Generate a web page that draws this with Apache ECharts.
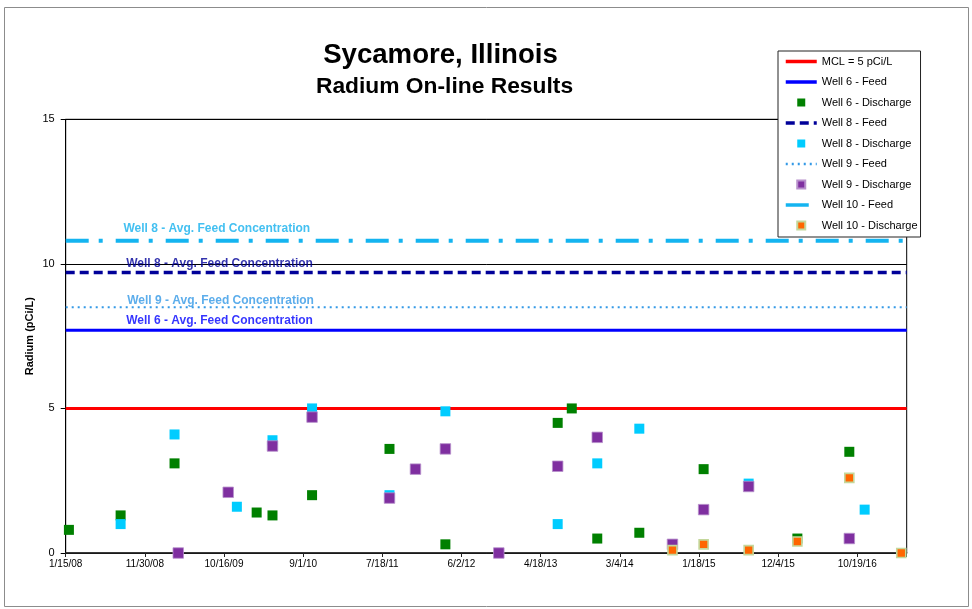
<!DOCTYPE html>
<html>
<head>
<meta charset="utf-8">
<script src="https://cdn.jsdelivr.net/npm/echarts@6/dist/echarts.min.js"></script>
<style>
html,body{margin:0;padding:0;background:#fff;}
#chart{width:972px;height:609px;}
</style>
</head>
<body>
<div id="chart"></div>
<script>
// ---- data ----
const startDate = '2008-01-15';
const endDate = '2017-05-07';
const tickIntervalDays = 320;
const yTicks = [0, 5, 10, 15];

const mclValue = 5;
const well6FeedAvg = 7.7;
const well8FeedAvg = 9.7;
const well9FeedAvg = 8.5;
const well10FeedAvg = 10.8;

const well6Dates = ['2008-01-28','2008-08-24','2009-03-30','2010-02-25','2010-04-30','2010-10-07','2011-08-16','2012-03-29','2013-06-26','2013-08-22','2013-12-03','2014-05-22','2015-02-06','2016-02-20','2016-09-17'];
const well6Values = [0.8,1.3,3.1,1.4,1.3,2.0,3.6,0.3,4.5,5.0,0.5,0.7,2.9,0.5,3.5];

const well8Dates = ['2008-08-24','2009-03-30','2009-12-07','2010-04-30','2010-10-07','2011-08-16','2012-03-29','2013-06-26','2013-12-03','2014-05-22','2015-08-07','2016-11-18'];
const well8Values = [1.0,4.1,1.6,3.9,5.0,2.0,4.9,1.0,3.1,4.3,2.4,1.5];

const well9Dates = ['2009-04-14','2009-11-02','2010-04-30','2010-10-07','2011-08-16','2011-11-29','2012-03-29','2012-10-31','2013-06-26','2013-12-03','2014-10-03','2015-02-06','2015-08-07','2016-09-17'];
const well9Values = [0.0,2.1,3.7,4.7,1.9,2.9,3.6,0.0,3.0,4.0,0.3,1.5,2.3,0.5];

const well10Dates = ['2014-10-03','2015-02-06','2015-08-07','2016-02-20','2016-09-17','2017-04-15'];
const well10Values = [0.1,0.3,0.1,0.4,2.6,0.0];

const annotationTexts = ['Well 8 - Avg. Feed Concentration','Well 8 - Avg. Feed Concentration','Well 9 - Avg. Feed Concentration','Well 6 - Avg. Feed Concentration'];
const legendNames = ['MCL = 5 pCi/L','Well 6 - Feed','Well 6 - Discharge','Well 8 - Feed','Well 8 - Discharge','Well 9 - Feed','Well 9 - Discharge','Well 10 - Feed','Well 10 - Discharge'];

// ---- helpers ----
const DAY = 86400000;
function toMs(s){ const p = s.split('-').map(Number); return Date.UTC(p[0], p[1]-1, p[2]); }
const base = toMs(startDate);
function toDay(s){ return Math.round((toMs(s) - base) / DAY); }
const xMax = toDay(endDate);
function fmtDay(v){
  const d = new Date(base + v * DAY);
  return (d.getUTCMonth()+1) + '/' + d.getUTCDate() + '/' + String(d.getUTCFullYear()).slice(2);
}
function pts(dates, vals){ return dates.map((d,i) => [toDay(d), vals[i]]); }
function flat(v){ return [[0, v], [xMax, v]]; }

const FONT = '"Liberation Sans", Arial, sans-serif';
const SQUARE = 'path://M0,0L10,0L10,10L0,10Z';

const chart = echarts.init(document.getElementById('chart'), null, {renderer:'canvas'});

function lineSeries(name, v, color, width, type, z){
  return {
    name, type:'line', data: flat(v), symbol:'none', showSymbol:false, silent:true,
    lineStyle:{color, width, type, cap:'butt'}, itemStyle:{color}, z: z || 2,
    animation:false
  };
}
function scatterSeries(name, data, color, size, border){
  return {
    name, type:'scatter', data, symbol:'rect', symbolSize:size, silent:true,
    itemStyle: Object.assign({color, opacity:1}, border || {}), z:5, animation:false
  };
}

const annotationColors = ['#14B0EE','#000099','#3399E6','#0000FF'];
const annotationData = [
  {value:[611, well10FeedAvg + 0.40], name: annotationTexts[0]},
  {value:[622, well8FeedAvg + 0.30], name: annotationTexts[1]},
  {value:[626, well9FeedAvg + 0.23], name: annotationTexts[2]},
  {value:[622, well6FeedAvg + 0.32], name: annotationTexts[3]}
].map((d,i) => Object.assign(d, {label:{color: annotationColors[i]}}));

const legendLineWidth = {'Well 9 - Feed': 2.5};
const legendData = legendNames.map(n => n.indexOf('Discharge') >= 0
  ? {name:n, icon:SQUARE}
  : {name:n, itemStyle:{opacity:0}, lineStyle:{width: legendLineWidth[n] || 3.5}});

const option = {
  animation:false,
  backgroundColor:'#fff',
  title:[
    {text:'Sycamore, Illinois', left:440.5, top:41, textAlign:'center', padding:0,
     textStyle:{fontFamily:FONT, fontSize:27.6, fontWeight:'bold', color:'#000', lineHeight:28}},
    {text:'Radium On-line Results', left:444.5, top:76, textAlign:'center', padding:0,
     textStyle:{fontFamily:FONT, fontSize:22.8, fontWeight:'bold', color:'#000', lineHeight:22}}
  ],
  graphic:[
    {type:'rect', shape:{x:4.5, y:7.5, width:964, height:599}, style:{fill:null, stroke:'#8c8c8c', lineWidth:1}, silent:true, z:-10}
  ],
  legend:{
    orient:'vertical', left:778, top:51,
    padding:[5,3,6,6], itemGap:9.5, itemWidth:31, itemHeight:8,
    symbolKeepAspect:true,
    backgroundColor:'#fff', borderColor:'#222', borderWidth:1,
    textStyle:{fontFamily:FONT, fontSize:11, color:'#000'},
    data:legendData,
    selectedMode:false, z:20
  },
  grid:{left:65.7, top:119.3, right:65.3, bottom:56, show:true, borderColor:'#000', borderWidth:1, backgroundColor:'transparent'},
  xAxis:{
    type:'value', min:0, max:xMax, interval:tickIntervalDays,
    axisLine:{show:true, lineStyle:{color:'#222', width:1.5}},
    axisTick:{show:true, length:4, lineStyle:{color:'#222'}},
    splitLine:{show:false},
    axisLabel:{fontFamily:FONT, fontSize:10, color:'#000', margin:6,
      formatter: v => (v % tickIntervalDays === 0 ? fmtDay(v) : '')}
  },
  yAxis:{
    type:'value', min:yTicks[0], max:yTicks[yTicks.length-1], interval:5,
    name:'Radium (pCi/L)', nameLocation:'middle', nameGap:30, nameMoveOverlap:false,
    nameTextStyle:{fontFamily:FONT, fontSize:11, fontWeight:'bold', color:'#000'},
    axisLine:{show:true, lineStyle:{color:'#000', width:1}},
    axisTick:{show:true, length:5, lineStyle:{color:'#000'}},
    splitLine:{show:true, lineStyle:{color:'#000', width:1}},
    axisLabel:{fontFamily:FONT, fontSize:11, color:'#000', margin:11}
  },
  series:[
    lineSeries('MCL = 5 pCi/L', mclValue, '#FF0000', 3, 'solid', 3),
    lineSeries('Well 6 - Feed', well6FeedAvg, '#0000FF', 3, 'solid'),
    scatterSeries('Well 6 - Discharge', pts(well6Dates, well6Values), '#008000', 10),
    lineSeries('Well 8 - Feed', well8FeedAvg, '#000099', 3.5, [9,5]),
    scatterSeries('Well 8 - Discharge', pts(well8Dates, well8Values), '#00CCFF', 10),
    lineSeries('Well 9 - Feed', well9FeedAvg, '#3399E6', 2, [2,4]),
    scatterSeries('Well 9 - Discharge', pts(well9Dates, well9Values), '#7F2FA0', 10.5, {borderColor:'#B890CC', borderWidth:0.8}),
    lineSeries('Well 10 - Feed', well10FeedAvg, '#14B4F0', 4, [23,10,4,13]),
    scatterSeries('Well 10 - Discharge', pts(well10Dates, well10Values), '#FF6600', 9, {borderColor:'#C4D79B', borderWidth:1.6}),
    {
      name:'annotations', type:'scatter', data:annotationData, symbolSize:0, silent:true, z:6,
      label:{show:true, position:'inside', formatter: p => p.name,
        fontFamily:FONT, fontSize:12, fontWeight:'bold'}
    }
  ]
};
chart.setOption(option);
</script>
</body>
</html>
